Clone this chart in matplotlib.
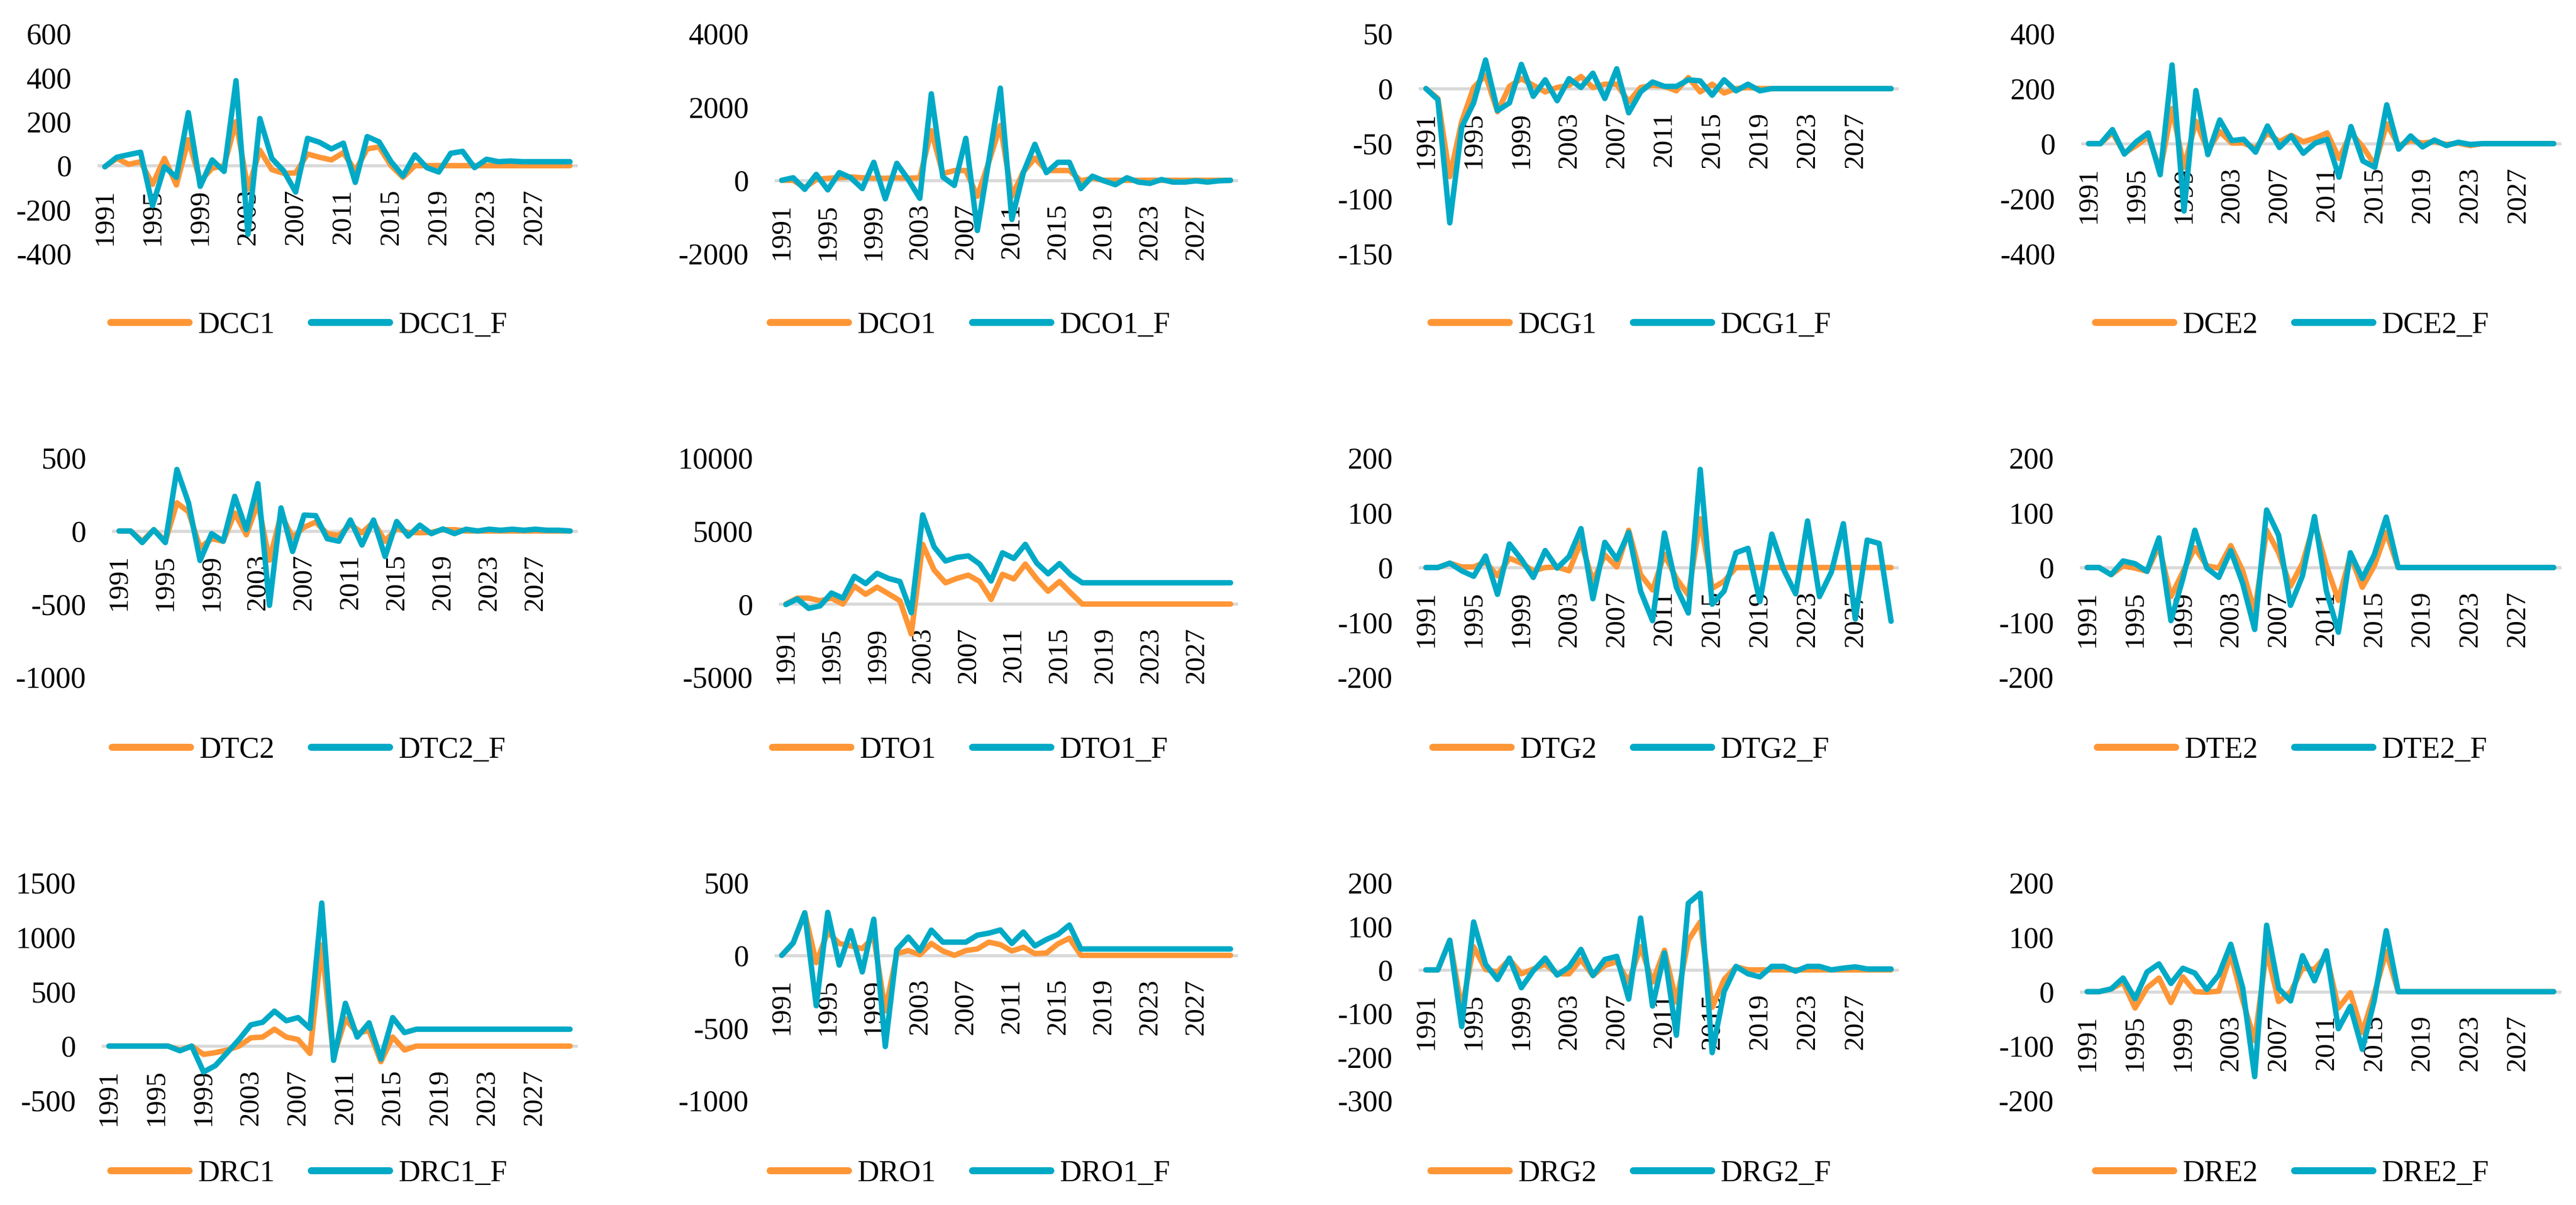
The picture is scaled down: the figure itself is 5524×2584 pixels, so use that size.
import matplotlib
matplotlib.use("Agg")
import matplotlib.pyplot as plt

plt.rcParams["font.family"] = ["Liberation Serif", "DejaVu Serif"]
plt.rcParams["axes.unicode_minus"] = False

W, H = 5524, 2584
years = list(range(1991, 2031))

ORANGE = "#FF9636"
TEAL = "#00AAC6"

# --- data ---
DCC1 = [-5, 33, 6, 18, -85, 33, -88, 118, -70, -12, 0, 200, -106, 70, -18, -35, -33, 53, 38, 26,
        59, -24, 76, 85, 0, -53, 0, 0, 0, 0, 0, 0, 0, 0, 0, 0, 0, 0, 0, 0]
DCC1_F = [-5, 38, 50, 61, -182, -5, -53, 241, -94, 26, -26, 386, -312, 214, 33, -24, -120, 124, 106, 76,
          102, -76, 132, 108, 18, -47, 49, -9, -29, 56, 65, -9, 29, 18, 21, 18, 18, 18, 18, 18]

DCO1 = [0, 0, -200, 21, 56, 70, 91, 70, 56, 56, 70, 56, 70, 1354, 182, 267, 267, -435, 500, 1495,
        -435, 232, 604, 267, 267, 267, -14, 56, 0, 0, 0, 0, 0, 0, 0, 0, 0, 0, 0, 0]
DCO1_F = [0, 70, -246, 161, -260, 210, 70, -225, 491, -505, 463, 21, -491, 2358, 91, -140, 1144, -1368, 547, 2512,
          -1067, 210, 982, 210, 491, 491, -225, 112, -14, -119, 70, -49, -84, 21, -49, -49, -14, -49, -14, 0]

DCG1 = [0, -9, -80, -30, 1, 12, -21, 2, 9, 3, -3, 1, 3, 11, 1, 4, 4, -12, 1, 3,
        2, -2, 10, -3, 4, -4, 0, 1, 0, 0, 0, 0, 0, 0, 0, 0, 0, 0, 0, 0]
DCG1_F = [0, -10, -122, -35, -13, 26, -20, -13, 22, -7, 8, -11, 9, 1, 14, -9, 18, -22, -3, 6,
          2, 2, 8, 7, -6, 8, -2, 4, -2, 0, 0, 0, 0, 0, 0, 0, 0, 0, 0, 0]

DCE2 = [0, 0, 40, -35, -7, 25, -96, 127, -86, 81, -26, 44, 2, 2, -17, 39, 7, 30, 7, 20,
        39, -54, 39, -12, -77, 72, -7, 11, 2, 7, -3, 2, -7, 0, 0, 0, 0, 0, 0, 0]
DCE2_F = [0, 0, 51, -38, 7, 39, -113, 286, -245, 193, -40, 86, 11, 16, -31, 64, -14, 28, -35, 2,
          16, -122, 62, -63, -86, 141, -20, 28, -12, 13, -7, 5, -3, 0, 0, 0, 0, 0, 0, 0]

DTC2 = [0, 0, -70, 9, -70, 193, 131, -114, -53, -70, 123, -26, 193, -200, 114, -44, 26, 61, -18, -30,
        44, -12, 61, -70, 18, -9, -12, -9, 9, 9, 0, 0, 0, 0, 0, 0, 0, 0, 0, 0]
DTC2_F = [0, 0, -79, 9, -79, 421, 193, -202, -18, -70, 237, 9, 324, -509, 158, -140, 109, 105, -53, -70,
          75, -96, 75, -175, 65, -35, 40, -18, 14, -18, 12, 0, 12, 5, 12, 5, 12, 5, 5, 0]

DTO1 = [0, 403, 403, 228, 403, 0, 1228, 667, 1158, 702, 228, -2052, 4087, 2333, 1456, 1754, 1982, 1543, 316, 2035,
        1719, 2736, 1719, 877, 1543, 754, 0, 0, 0, 0, 0, 0, 0, 0, 0, 0, 0, 0, 0, 0]
DTO1_F = [-35, 351, -298, -123, 754, 403, 1894, 1403, 2105, 1754, 1543, -596, 6104, 3912, 2947, 3192, 3298, 2736, 1579, 3508,
          3122, 4087, 2806, 2070, 2771, 1982, 1456, 1456, 1456, 1456, 1456, 1456, 1456, 1456, 1456, 1456, 1456, 1456, 1456, 1456]

DTG2 = [0, 0, 8, 1, 1, 10, -15, 17, 8, -6, 0, 1, -6, 47, -25, 23, 1, 68, -13, -41,
        24, -20, -50, 89, -38, -25, 0, 0, 0, 0, 0, 0, 0, 0, 0, 0, 0, 0, 0, 0]
DTG2_F = [0, 0, 8, -6, -16, 21, -49, 43, 15, -18, 31, -1, 20, 71, -57, 46, 15, 64, -43, -97,
          63, -36, -83, 179, -67, -43, 27, 35, -62, 61, -4, -48, 85, -53, -8, 80, -94, 50, 44, -98]

DTE2 = [0, 0, -13, 3, -1, -7, 40, -53, -8, 36, 3, -1, 40, -6, -80, 68, 27, -34, 8, 82,
        3, -60, 22, -36, 3, 64, 0, 0, 0, 0, 0, 0, 0, 0, 0, 0, 0, 0, 0, 0]
DTE2_F = [0, 0, -13, 12, 7, -7, 54, -97, -20, 68, -1, -18, 31, -29, -113, 105, 59, -69, -15, 93,
          -43, -118, 27, -20, 23, 92, 0, 0, 0, 0, 0, 0, 0, 0, 0, 0, 0, 0, 0, 0]

DRC1 = [0, 0, 0, 0, 0, 0, -36, 0, -76, -60, -36, 0, 76, 83, 155, 83, 60, -67, 929, -100,
        250, 119, 143, -143, 83, -36, 0, 0, 0, 0, 0, 0, 0, 0, 0, 0, 0, 0, 0, 0]
DRC1_F = [0, 0, 0, 0, 0, 0, -43, 0, -238, -179, -60, 60, 195, 219, 321, 233, 262, 162, 1314, -131,
          393, 83, 214, -119, 262, 124, 155, 155, 155, 155, 155, 155, 155, 155, 155, 155, 155, 155, 155, 155]

DRO1 = [0, 86, 293, -50, 161, 82, 65, 47, 126, -382, 12, 33, 4, 82, 30, 0, 33, 44, 91, 74,
        30, 56, 12, 16, 79, 118, 0, 0, 0, 0, 0, 0, 0, 0, 0, 0, 0, 0, 0, 0]
DRO1_F = [0, 86, 293, -347, 296, -67, 170, -114, 249, -628, 39, 126, 33, 174, 91, 91, 91, 139, 153, 175,
          82, 161, 65, 109, 144, 209, 44, 44, 44, 44, 44, 44, 44, 44, 44, 44, 44, 44, 44, 44]

DRG2 = [0, 0, 68, -90, 53, 1, -5, 24, -9, 2, 13, -9, -9, 24, -13, 10, 19, -28, 53, -28,
        45, -74, 68, 110, -86, -22, 7, 0, 0, 0, 0, 0, 0, 0, 0, 0, 0, 0, 0, 0]
DRG2_F = [0, 0, 68, -130, 110, 13, -22, 27, -41, -2, 27, -12, 7, 47, -13, 24, 31, -67, 119, -83,
          39, -150, 153, 176, -190, -50, 8, -9, -16, 8, 8, -3, 8, 8, 0, 4, 7, 2, 2, 2]

DRE2 = [0, 0, 5, 17, -30, 7, 25, -20, 27, 0, -1, 1, 69, -16, -90, 76, -18, -1, 43, 41,
        67, -30, -2, -75, -4, 74, 0, 0, 0, 0, 0, 0, 0, 0, 0, 0, 0, 0, 0, 0]
DRE2_F = [0, 0, 5, 25, -13, 36, 51, 15, 43, 34, 4, 31, 87, 7, -156, 122, 6, -17, 66, 20,
          75, -68, -27, -106, -16, 112, 0, 0, 0, 0, 0, 0, 0, 0, 0, 0, 0, 0, 0, 0]

panels = [
    ("DCC1", DCC1, DCC1_F, (-400, 600, 200)),
    ("DCO1", DCO1, DCO1_F, (-2000, 4000, 2000)),
    ("DCG1", DCG1, DCG1_F, (-150, 50, 50)),
    ("DCE2", DCE2, DCE2_F, (-400, 400, 200)),
    ("DTC2", DTC2, DTC2_F, (-1000, 500, 500)),
    ("DTO1", DTO1, DTO1_F, (-5000, 10000, 5000)),
    ("DTG2", DTG2, DTG2_F, (-200, 200, 100)),
    ("DTE2", DTE2, DTE2_F, (-200, 200, 100)),
    ("DRC1", DRC1, DRC1_F, (-500, 1500, 500)),
    ("DRO1", DRO1, DRO1_F, (-1000, 500, 500)),
    ("DRG2", DRG2, DRG2_F, (-300, 200, 100)),
    ("DRE2", DRE2, DRE2_F, (-200, 200, 100)),
]

# plot-area boxes in pixels: (left, right) per panel, (top, bottom) per row
x_boxes = [
    [(212, 1235), (1664, 2651), (3045, 4068), (4466, 5489)],
    [(243, 1235), (1673, 2651), (3045, 4068), (4463, 5489)],
    [(221, 1235), (1664, 2651), (3045, 4068), (4463, 5489)],
]
y_boxes = [(72, 544), (982, 1452), (1893, 2360)]
legend_x = [662, 2080, 3497, 4915]
legend_y = [698, 1609, 2517]

fig = plt.figure(figsize=(W / 300, H / 300), dpi=300)

for k, (name, actual, fitted, (lo, hi, step)) in enumerate(panels):
    r, c = divmod(k, 4)
    x0, x1 = x_boxes[r][c]
    y0, y1 = y_boxes[r]
    ax = fig.add_axes([x0 / W, 1 - y1 / H, (x1 - x0) / W, (y1 - y0) / H])

    idx = list(range(len(years)))
    ax.plot(idx, actual, color=ORANGE, lw=2.8, label=name, zorder=3,
            solid_joinstyle="round", solid_capstyle="round")
    ax.plot(idx, fitted, color=TEAL, lw=2.8, label=name + "_F", zorder=4,
            solid_joinstyle="round", solid_capstyle="round")

    ax.set_xlim(-0.5, len(years) - 0.5)
    ax.set_ylim(lo, hi)
    ticks = list(range(lo, hi + 1, step))
    ax.set_yticks(ticks)
    ax.set_yticklabels([str(t) for t in ticks])

    ax.set_xticks(idx[::4])
    ax.set_xticklabels([str(y) for y in years[::4]])

    for s in ("top", "right", "left"):
        ax.spines[s].set_visible(False)
    ax.spines["bottom"].set_position(("data", 0))
    ax.spines["bottom"].set_color("#D9D9D9")
    ax.spines["bottom"].set_linewidth(1.6)
    ax.spines["bottom"].set_zorder(2)

    ax.tick_params(axis="y", length=0, pad=14, labelsize=15.5)
    ax.tick_params(axis="x", length=0, pad=12, labelsize=14.5, labelrotation=90)
    ax.patch.set_visible(False)

    leg = ax.legend(loc="center", bbox_to_anchor=(legend_x[c] / W, 1 - legend_y[r] / H),
                    bbox_transform=fig.transFigure, ncol=2, frameon=False,
                    fontsize=15.5, handlelength=2.6, handletextpad=0.3, columnspacing=1.2)
    for h in leg.get_lines():
        h.set_linewidth(3.6)
        h.set_solid_capstyle("round")

fig.savefig("out.png", dpi=300)
